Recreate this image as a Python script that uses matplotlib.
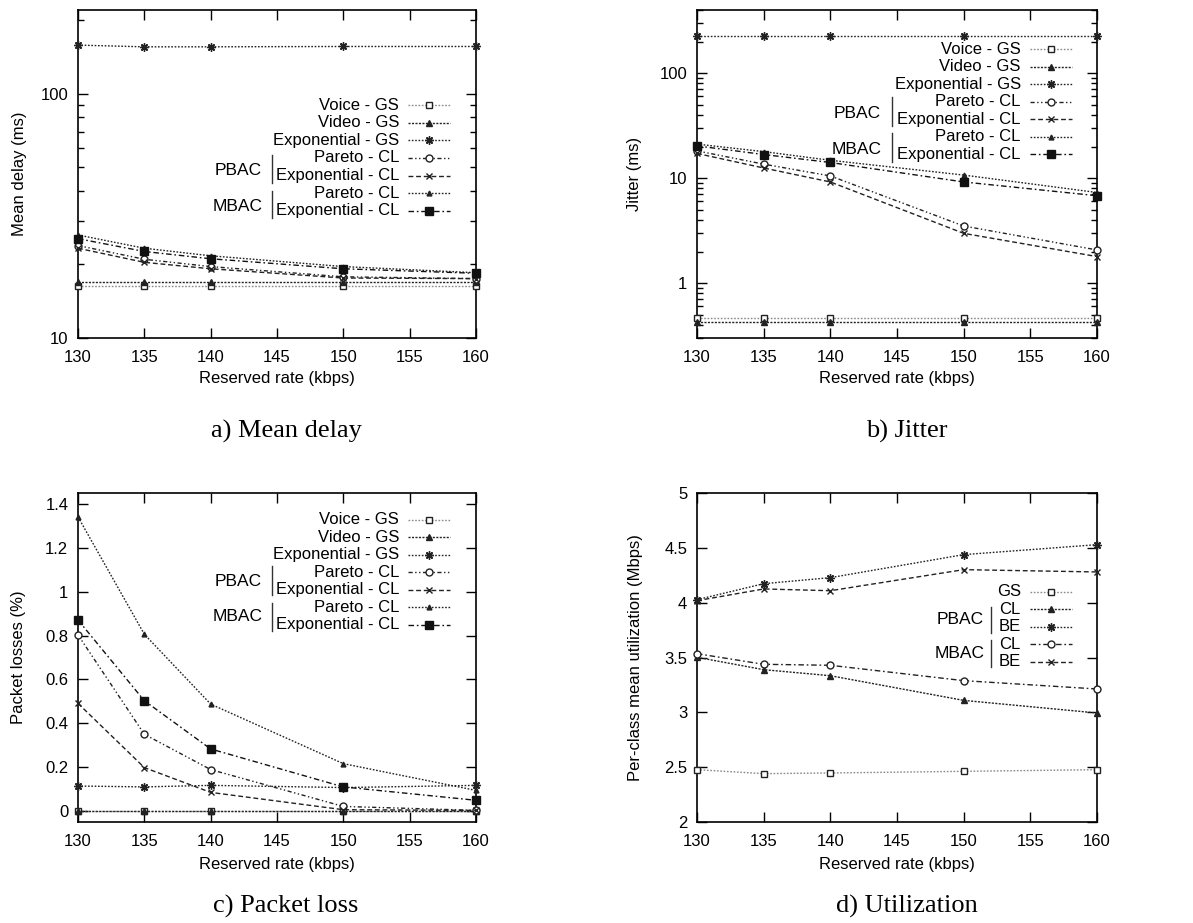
import matplotlib
matplotlib.use("Agg")
import matplotlib.pyplot as plt
from matplotlib.ticker import LogLocator, FixedLocator, FuncFormatter, NullFormatter
from matplotlib.lines import Line2D

plt.rcParams['font.family'] = ['Liberation Sans', 'DejaVu Sans']

W, H = 1193, 923

# ---------------- data ----------------
rates = [130, 135, 140, 150, 160]
x_ticks = [130, 135, 140, 145, 150, 155, 160]

delay_voice_gs = [16.3, 16.3, 16.3, 16.3, 16.3]
delay_video_gs = [17.0, 17.0, 17.0, 17.0, 17.0]
delay_exp_gs = [158, 155.5, 155.5, 156, 156]
delay_pbac_pareto = [23.9, 21.0, 19.6, 17.8, 17.5]
delay_pbac_exp = [23.3, 20.4, 19.2, 17.6, 17.5]
delay_mbac_pareto = [26.4, 23.3, 21.7, 19.6, 18.5]
delay_mbac_exp = [25.5, 22.6, 21.1, 19.2, 18.4]

jit_voice_gs = [0.467, 0.467, 0.467, 0.467, 0.467]
jit_video_gs = [0.425, 0.425, 0.425, 0.425, 0.425]
jit_exp_gs = [227, 227, 227, 227, 227]
jit_pbac_pareto = [18.2, 13.6, 10.5, 3.5, 2.07]
jit_pbac_exp = [17.2, 12.5, 9.2, 2.98, 1.79]
jit_mbac_pareto = [21.1, 17.9, 14.8, 10.7, 7.3]
jit_mbac_exp = [20.3, 16.8, 14.1, 9.2, 6.8]

loss_voice_gs = [0, 0, 0, 0, 0]
loss_video_gs = [0, 0, 0, 0, 0]
loss_exp_gs = [0.114, 0.110, 0.117, 0.107, 0.117]
loss_pbac_pareto = [0.803, 0.350, 0.189, 0.021, 0.003]
loss_pbac_exp = [0.491, 0.198, 0.085, 0.006, 0.003]
loss_mbac_pareto = [1.341, 0.806, 0.4875, 0.216, 0.094]
loss_mbac_exp = [0.871, 0.503, 0.283, 0.110, 0.049]

util_gs = [2.477, 2.441, 2.447, 2.462, 2.477]
util_pbac_cl = [3.502, 3.389, 3.334, 3.109, 2.994]
util_pbac_be = [4.027, 4.173, 4.228, 4.438, 4.529]
util_mbac_cl = [3.535, 3.438, 3.429, 3.289, 3.213]
util_mbac_be = [4.018, 4.125, 4.109, 4.301, 4.280]

labels7 = ["Voice - GS", "Video - GS", "Exponential - GS", "Pareto - CL",
           "Exponential - CL", "Pareto - CL", "Exponential - CL"]
labels5 = ["GS", "CL", "BE", "CL", "BE"]
captions = ["a) Mean delay", "b) Jitter", "c) Packet loss", "d) Utilization"]
ylabels = ["Mean delay (ms)", "Jitter (ms)", "Packet losses (%)", "Per-class mean utilization (Mbps)"]
xlabel = "Reserved rate (kbps)"

# ---------------- styles ----------------
DOT = (0, (1.2, 1.2))
DOTS = (0, (1.5, 1.0))
DASH = (0, (3.5, 2))
DASHDOT = (0, (4, 2, 1.2, 2))
DASHDOTDOT = (0, (3, 1.8, 1, 1.8, 1, 1.8))
ASTER = (8, 2, 0)

st_voice = dict(color='#8a8a8a', ls=DOT, marker='s', mfc='white', mec='#222222', ms=5)
st_video = dict(color='#222222', ls=DOTS, marker='^', mfc='#222222', mec='#222222', ms=5)
st_expgs = dict(color='#222222', ls=DOT, marker=ASTER, mec='#222222', ms=6)
st_pb_par = dict(color='#222222', ls=DASHDOTDOT, marker='o', mfc='white', mec='#222222', ms=5)
st_pb_exp = dict(color='#222222', ls=DASH, marker='x', mec='#222222', ms=5)
st_mb_par = dict(color='#222222', ls=DOT, marker='^', mfc='#222222', mec='#222222', ms=3.5)
st_mb_exp = dict(color='#111111', ls=DASHDOT, marker='s', mfc='#111111', mec='#111111', ms=6)
styles7 = [st_voice, st_video, st_expgs, st_pb_par, st_pb_exp, st_mb_par, st_mb_exp]

st_u_gs = st_voice
st_u_pbcl = dict(color='#222222', ls=DOTS, marker='^', mfc='#222222', mec='#222222', ms=5)
st_u_pbbe = dict(color='#222222', ls=DOT, marker=ASTER, mec='#222222', ms=6)
st_u_mbcl = dict(color='#222222', ls=DASHDOT, marker='o', mfc='white', mec='#222222', ms=5)
st_u_mbbe = dict(color='#222222', ls=DASH, marker='x', mec='#222222', ms=5)
styles5 = [st_u_gs, st_u_pbcl, st_u_pbbe, st_u_mbcl, st_u_mbbe]

FS = 12

fig = plt.figure(figsize=(W / 100, H / 100), dpi=100)

def add_axes_px(l, r, t, b):
    return fig.add_axes([l / W, 1 - b / H, (r - l) / W, (b - t) / H])

def fx(px):
    return px / W

def fy(py):
    return 1 - py / H

boxes = [(78, 476, 10, 338), (697, 1097, 10, 338), (78, 476, 493, 822), (697, 1097, 493, 822)]
axes = [add_axes_px(*b) for b in boxes]

def style_axes(ax, box, ylab, ylab_right, xlab_top):
    for s in ax.spines.values():
        s.set_linewidth(1.2)
    ax.set_xlim(130, 160)
    ax.xaxis.set_major_locator(FixedLocator(x_ticks))
    ax.tick_params(which='both', direction='in', top=True, right=True, labelsize=FS, width=1)
    ax.tick_params(which='major', length=7)
    ax.tick_params(which='minor', length=4)
    ax.tick_params(axis='x', pad=9)
    ax.tick_params(axis='y', pad=7)
    ax.set_xlabel(xlabel, fontsize=FS)
    ax.set_ylabel(ylab, fontsize=FS)
    l, r, t, b = box
    ax.xaxis.set_label_coords(0.5, -(xlab_top - b) / (b - t))
    ax.yaxis.set_label_coords((ylab_right - l) / (r - l), 0.5)

def draw(ax, ys, styles):
    for y, st in zip(ys, styles):
        ax.plot(rates, y, lw=1.0, clip_on=False, zorder=3, **st)

def legend(rows_y, labels, styles, text_right, x0, x1, groups):
    for y, lab, st in zip(rows_y, labels, styles):
        fig.text(fx(text_right), fy(y), lab, ha='right', va='center', fontsize=FS)
        fig.add_artist(Line2D([fx(x0), fx(x1)], [fy(y), fy(y)], lw=1.0,
                              color=st['color'], ls=st['ls']))
        mk = {k: v for k, v in st.items() if k in ('marker', 'mfc', 'mec', 'ms')}
        fig.add_artist(Line2D([fx((x0 + x1) / 2)], [fy(y)], ls='none', **mk))
    for name, tx, ty, bx, b0, b1 in groups:
        fig.text(fx(tx), fy(ty), name, ha='center', va='center', fontsize=FS + 0.5)
        fig.add_artist(Line2D([fx(bx), fx(bx)], [fy(b0), fy(b1)], lw=1.0, color='#333333'))

logfmt = FuncFormatter(lambda v, p: '%g' % v)

def log_y(ax, lo, hi):
    ax.set_yscale('log')
    ax.set_ylim(lo, hi)
    ax.yaxis.set_major_locator(LogLocator(base=10, subs=(1.0,)))
    ax.yaxis.set_minor_locator(LogLocator(base=10, subs=tuple(range(2, 10))))
    ax.yaxis.set_major_formatter(logfmt)
    ax.yaxis.set_minor_formatter(NullFormatter())

# ---- a) Mean delay ----
ax = axes[0]
style_axes(ax, boxes[0], ylabels[0], 27, 371)
log_y(ax, 10, 220)
draw(ax, [delay_voice_gs, delay_video_gs, delay_exp_gs, delay_pbac_pareto, delay_pbac_exp,
          delay_mbac_pareto, delay_mbac_exp], styles7)
rows = [105.3 + 17.55 * i for i in range(7)]
legend(rows, labels7, styles7, 399, 408, 450,
       [("PBAC", 238, 170.7, 272, 155, 182.7), ("MBAC", 238, 206.7, 272, 190.7, 218.3)])

# ---- b) Jitter ----
ax = axes[1]
style_axes(ax, boxes[1], ylabels[1], 642, 371)
log_y(ax, 0.3, 400)
draw(ax, [jit_voice_gs, jit_video_gs, jit_exp_gs, jit_pbac_pareto, jit_pbac_exp,
          jit_mbac_pareto, jit_mbac_exp], styles7)
rows = [49.3 + 17.5 * i for i in range(7)]
legend(rows, labels7, styles7, 1020.7, 1030, 1071.7,
       [("PBAC", 857, 113.3, 892, 97, 126), ("MBAC", 857, 149, 892, 133.3, 161.7)])

# ---- c) Packet loss ----
ax = axes[2]
style_axes(ax, boxes[2], ylabels[2], 26, 857)
ax.set_ylim(-0.05, 1.45)
ax.yaxis.set_major_locator(FixedLocator([0, 0.2, 0.4, 0.6, 0.8, 1.0, 1.2, 1.4]))
ax.yaxis.set_major_formatter(FuncFormatter(lambda v, p: '%g' % round(v, 1)))
draw(ax, [loss_voice_gs, loss_video_gs, loss_exp_gs, loss_pbac_pareto, loss_pbac_exp,
          loss_mbac_pareto, loss_mbac_exp], styles7)
rows = [520 + 17.45 * i for i in range(7)]
legend(rows, labels7, styles7, 399, 408, 450,
       [("PBAC", 238, 581.7, 272, 566, 595), ("MBAC", 238, 616.7, 272, 602.7, 630.7)])

# ---- d) Utilization ----
ax = axes[3]
style_axes(ax, boxes[3], ylabels[3], 643, 857)
ax.set_ylim(2, 5)
ax.yaxis.set_major_locator(FixedLocator([2, 2.5, 3, 3.5, 4, 4.5, 5]))
ax.yaxis.set_major_formatter(FuncFormatter(lambda v, p: '%g' % v))
draw(ax, [util_gs, util_pbac_cl, util_pbac_be, util_mbac_cl, util_mbac_be], styles5)
rows = [591.7 + 17.5 * i for i in range(5)]
legend(rows, labels5, styles5, 1020.7, 1030, 1071.7,
       [("PBAC", 960, 619.3, 990.7, 606.7, 632.7), ("MBAC", 960, 653.3, 990.7, 640, 667.3)])

# ---- captions ----
cap_pos = [(286, 438), (907, 438), (286, 913), (907, 913)]
for (cx, cy), c in zip(cap_pos, captions):
    fig.text(fx(cx), fy(cy), c, ha='center', va='baseline', fontsize=19,
             family=['Liberation Serif', 'DejaVu Serif'])

fig.savefig('out.png', dpi=100)
